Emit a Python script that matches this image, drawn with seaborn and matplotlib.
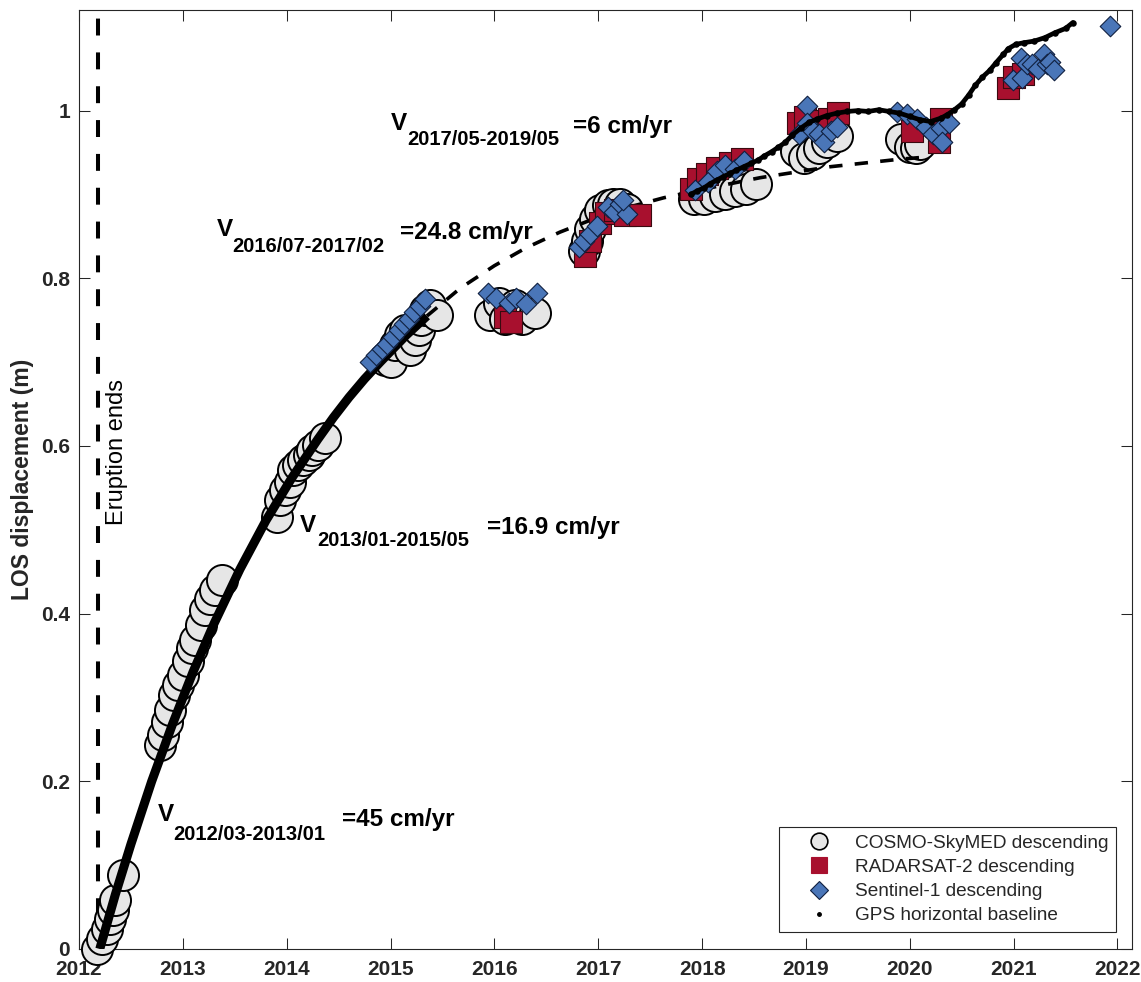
import numpy as np
import pandas as pd
import matplotlib
matplotlib.use("Agg")
import matplotlib.pyplot as plt
import seaborn as sns
from matplotlib.lines import Line2D

# ---------------- data ----------------
eruption_end = 2012.18

csk_t = [2012.17, 2012.22, 2012.27, 2012.30, 2012.33, 2012.35, 2012.42,
         2012.78, 2012.81, 2012.85, 2012.88, 2012.91, 2012.95, 2013.00, 2013.05,
         2013.09, 2013.12, 2013.17, 2013.21, 2013.26, 2013.31, 2013.38,
         2013.91, 2013.94, 2013.98, 2014.03, 2014.06, 2014.11, 2014.16, 2014.21,
         2014.24, 2014.30, 2014.37,
         2014.95, 2015.00, 2015.04, 2015.09, 2015.14, 2015.19, 2015.24, 2015.27,
         2015.29, 2015.33, 2015.38, 2015.45,
         2015.96, 2016.04, 2016.10, 2016.20, 2016.27, 2016.39,
         2016.86, 2016.89, 2016.92, 2016.97, 2017.02, 2017.09, 2017.14, 2017.21, 2017.28,
         2017.92, 2018.02, 2018.12, 2018.22, 2018.32, 2018.42, 2018.52,
         2018.90, 2018.98, 2019.06, 2019.13, 2019.20, 2019.30,
         2019.92, 2020.00, 2020.06, 2020.10]
csk_y = [0.000, 0.012, 0.024, 0.036, 0.047, 0.058, 0.088,
         0.243, 0.255, 0.271, 0.285, 0.303, 0.315, 0.327, 0.344,
         0.359, 0.368, 0.386, 0.404, 0.418, 0.428, 0.440,
         0.515, 0.535, 0.547, 0.557, 0.571, 0.577, 0.583, 0.589,
         0.595, 0.601, 0.610,
         0.702, 0.700, 0.720, 0.732, 0.738, 0.714, 0.726, 0.738,
         0.750, 0.762, 0.768, 0.756,
         0.756, 0.771, 0.752, 0.768, 0.752, 0.759,
         0.833, 0.845, 0.859, 0.871, 0.881, 0.887, 0.889, 0.889, 0.883,
         0.894, 0.895, 0.898, 0.900, 0.904, 0.907, 0.912,
         0.952, 0.944, 0.948, 0.955, 0.962, 0.970,
         0.966, 0.957, 0.955, 0.960]

rs2_t = [2016.10, 2016.16,
         2016.87, 2016.92, 2017.02, 2017.07, 2017.16, 2017.26, 2017.40,
         2017.89, 2017.96, 2018.05, 2018.14, 2018.27, 2018.38,
         2018.92, 2018.99, 2019.10, 2019.22, 2019.31,
         2020.02, 2020.30, 2020.28,
         2020.95, 2021.00, 2021.09]
rs2_y = [0.754, 0.748,
         0.826, 0.845, 0.866, 0.878, 0.881, 0.876, 0.875,
         0.906, 0.918, 0.924, 0.932, 0.937, 0.942,
         0.985, 0.992, 0.988, 0.990, 0.997,
         0.976, 0.990, 0.963,
         1.027, 1.040, 1.044]

s1_t = [2014.80, 2014.86, 2014.92, 2014.97, 2015.02, 2015.08, 2015.13, 2015.18,
        2015.23, 2015.28, 2015.33,
        2015.94, 2016.02, 2016.14, 2016.21, 2016.30, 2016.41,
        2016.81, 2016.86, 2016.92, 2016.99, 2017.09, 2017.15, 2017.21, 2017.28, 2017.24,
        2017.93, 2018.06, 2018.14, 2018.22, 2018.32, 2018.40,
        2019.01, 2018.93, 2019.01, 2019.07, 2019.13, 2019.17, 2019.24, 2019.30,
        2019.88, 2019.97, 2020.07, 2020.16, 2020.22, 2020.30, 2020.38, 2020.31,
        2020.99, 2021.07, 2021.08, 2021.13, 2021.18, 2021.23, 2021.29, 2021.32,
        2021.35, 2021.39,
        2021.93]
s1_y = [0.700, 0.708, 0.716, 0.722, 0.730, 0.738, 0.745, 0.752,
        0.760, 0.767, 0.775,
        0.782, 0.776, 0.770, 0.776, 0.769, 0.783,
        0.837, 0.845, 0.853, 0.862, 0.885, 0.879, 0.889, 0.877, 0.893,
        0.905, 0.915, 0.928, 0.935, 0.930, 0.940,
        1.005, 0.972, 0.985, 0.976, 0.972, 0.963, 0.976, 0.980,
        0.998, 0.996, 0.990, 0.980, 0.972, 0.979, 0.985, 0.963,
        1.036, 1.063, 1.039, 1.056, 1.055, 1.050, 1.067, 1.056,
        1.058, 1.048,
        1.101]

gps_t = [2017.89, 2017.95, 2018.02, 2018.08, 2018.14, 2018.20, 2018.27, 2018.33,
         2018.40, 2018.47, 2018.54, 2018.60, 2018.67, 2018.73, 2018.80, 2018.87,
         2018.95, 2019.03, 2019.11, 2019.20, 2019.30, 2019.40, 2019.50, 2019.60,
         2019.70, 2019.80, 2019.90, 2020.00, 2020.10, 2020.20, 2020.30, 2020.36,
         2020.43, 2020.50, 2020.57, 2020.63, 2020.70, 2020.77, 2020.83, 2020.90,
         2020.95, 2021.02, 2021.10, 2021.20, 2021.30, 2021.40, 2021.50, 2021.57]
gps_y = [0.900, 0.904, 0.908, 0.913, 0.917, 0.921, 0.925, 0.929,
         0.933, 0.937, 0.941, 0.946, 0.951, 0.956, 0.962, 0.971,
         0.979, 0.986, 0.990, 0.994, 0.997, 0.999, 1.000, 0.999,
         1.001, 0.999, 0.997, 0.993, 0.989, 0.987, 0.991, 0.995,
         1.001, 1.008, 1.019, 1.030, 1.040, 1.048, 1.057, 1.067,
         1.074, 1.079, 1.081, 1.083, 1.087, 1.093, 1.098, 1.105]

fit_solid_t = [2012.20, 2012.35, 2012.50, 2012.70, 2012.90, 2013.10, 2013.30,
               2013.55, 2013.80, 2014.05, 2014.30, 2014.45, 2014.60, 2014.75,
               2014.90, 2015.15, 2015.35]
fit_solid_y = [0.000, 0.065, 0.125, 0.200, 0.268, 0.331, 0.388,
               0.453, 0.511, 0.562, 0.608, 0.634, 0.658, 0.680,
               0.700, 0.732, 0.755]

fit_dash_t = [2015.35, 2015.67, 2016.00, 2016.30, 2016.63, 2017.00, 2017.30,
              2017.63, 2018.00, 2018.56, 2019.23, 2019.90, 2020.20]
fit_dash_y = [0.755, 0.788, 0.815, 0.836, 0.855, 0.873, 0.885,
              0.896, 0.906, 0.920, 0.933, 0.942, 0.945]

x_ticks = [2012, 2013, 2014, 2015, 2016, 2017, 2018, 2019, 2020, 2021, 2022]
y_ticks = [0, 0.2, 0.4, 0.6, 0.8, 1.0]
y_tick_labels = ["0", "0.2", "0.4", "0.6", "0.8", "1"]

legend_labels = ["COSMO-SkyMED descending", "RADARSAT-2 descending",
                 "Sentinel-1 descending", "GPS horizontal baseline"]

rate_periods = ["2012/03-2013/01", "2013/01-2015/05", "2016/07-2017/02", "2017/05-2019/05"]
rate_values = ["=45 cm/yr", "=16.9 cm/yr", "=24.8 cm/yr", "=6 cm/yr"]

# ---------------- styling ----------------
sns.set_theme(style="white")
plt.rcParams['font.family'] = ['Liberation Sans', 'DejaVu Sans']
plt.rcParams['axes.unicode_minus'] = False

DARK = "#262626"
C_CSK = "#e6e6e6"
C_RS2 = "#a8102e"
C_S1 = "#4a76b8"

W, H = 1141, 982
fig = plt.figure(figsize=(W / 100, H / 100), dpi=100)
ax = fig.add_axes([79 / W, 1 - 949 / H, (1132 - 79) / W, (949 - 10) / H])

# eruption end line
ax.axvline(eruption_end, color="black", lw=2.9, linestyle=(0, (4.2, 4.2)), zorder=1)

# CSK circles
sns.scatterplot(x=csk_t, y=csk_y, ax=ax, s=500, color=C_CSK, edgecolor="black",
                linewidth=1.4, zorder=2, legend=False, clip_on=False)

# fitted curves
sns.lineplot(x=fit_solid_t, y=fit_solid_y, ax=ax, sort=False, estimator=None,
             color="black", lw=6.5, zorder=3, legend=False,
             solid_joinstyle="round", solid_capstyle="butt")
sns.lineplot(x=fit_dash_t, y=fit_dash_y, ax=ax, sort=False, estimator=None,
             color="black", lw=2.6, linestyle=(0, (3.7, 3.4)), zorder=3, legend=False)

# RADARSAT-2 squares
sns.scatterplot(x=rs2_t, y=rs2_y, ax=ax, s=250, marker="s", color=C_RS2,
                edgecolor="#3a0a10", linewidth=0.8, zorder=4, legend=False,
                clip_on=False)

# Sentinel-1 diamonds
sns.scatterplot(x=s1_t, y=s1_y, ax=ax, s=110, marker="D", color=C_S1,
                edgecolor="#102040", linewidth=0.8, zorder=5, legend=False,
                clip_on=False)

# GPS baseline
sns.lineplot(x=gps_t, y=gps_y, ax=ax, sort=False, estimator=None,
             color="black", lw=3.4, zorder=6, legend=False)
sns.scatterplot(x=gps_t, y=gps_y, ax=ax, s=22, color="black", edgecolor="black",
                linewidth=0, zorder=6, legend=False)

# axes
ax.set_xlim(2012, 2022.14)
ax.set_ylim(0, 1.12)
ax.set_xticks(x_ticks)
ax.set_xticklabels([str(t) for t in x_ticks])
ax.set_yticks(y_ticks)
ax.set_yticklabels(y_tick_labels)
ax.tick_params(axis="both", which="major", direction="in", length=7.7, width=0.75,
               color=DARK, labelcolor=DARK, labelsize=15, top=True, right=True,
               bottom=True, left=True)
ax.tick_params(axis="y", pad=6.5)
ax.tick_params(axis="x", pad=8)
for lab in ax.get_xticklabels() + ax.get_yticklabels():
    lab.set_fontweight("bold")
for sp in ax.spines.values():
    sp.set_color(DARK)
    sp.set_linewidth(0.8)
    sp.set_visible(True)
    sp.set_zorder(0.5)

ax.set_xlabel("")
ax.set_ylabel("LOS displacement (m)", fontsize=16.5, fontweight="bold", color=DARK)
ax.yaxis.set_label_coords(-0.043, 0.5)

# annotation text
ax.text(2012.37, 0.593, "Eruption ends", rotation=90, ha="center", va="center",
        fontsize=17, color="black")

v_pos = [(2012.76, 0.160), (2014.13, 0.505), (2013.33, 0.858), (2015.00, 0.985)]
sub_pos = [(2012.91, 0.136), (2014.29, 0.487), (2013.48, 0.838), (2015.16, 0.965)]
val_pos = [(2014.53, 0.154), (2015.93, 0.503), (2015.09, 0.855), (2016.76, 0.981)]
for (vx, vy), (sx, sy), (qx, qy), per, val in zip(v_pos, sub_pos, val_pos,
                                                   rate_periods, rate_values):
    ax.text(vx, vy, "V", ha="left", va="center", fontsize=17.5, fontweight="bold",
            color="black", zorder=8)
    ax.text(sx, sy, per, ha="left", va="center", fontsize=14.5, fontweight="bold",
            color="black", zorder=8)
    ax.text(qx, qy, val, ha="left", va="center", fontsize=17.5, fontweight="bold",
            color="black", zorder=8)

# legend
handles = [
    Line2D([], [], marker="o", ls="none", ms=12, mfc=C_CSK, mec="black", mew=1.2),
    Line2D([], [], marker="s", ls="none", ms=12, mfc=C_RS2, mec=C_RS2, mew=0.8),
    Line2D([], [], marker="D", ls="none", ms=9, mfc=C_S1, mec="#102040", mew=0.8),
    Line2D([], [], marker="o", ls="none", ms=2.5, mfc="black", mec="black"),
]
leg = ax.legend(handles=handles, labels=legend_labels, loc="lower right",
                bbox_to_anchor=(0.985, 0.018), borderaxespad=0, fontsize=13.7,
                frameon=True, fancybox=False, framealpha=1, edgecolor=DARK,
                borderpad=0.4, handlelength=3.4, handletextpad=0.2,
                labelspacing=0.36)
leg.get_frame().set_linewidth(0.8)
leg.set_zorder(10)

fig.savefig("out.png", dpi=100)
